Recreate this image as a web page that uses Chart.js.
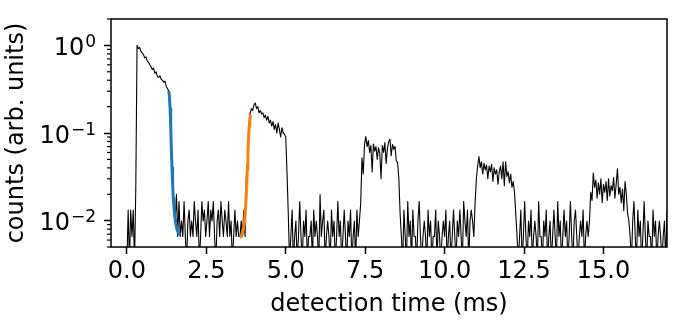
<!DOCTYPE html>
<html>
<head>
<meta charset="utf-8">
<script src="https://cdn.jsdelivr.net/npm/chart.js@4.4.1/dist/chart.umd.min.js"></script>
<style>
  html, body { margin: 0; padding: 0; background: #fff; }
  #wrap { width: 690px; height: 326px; position: relative; }
</style>
</head>
<body>
<div id="wrap"><canvas id="grafico"></canvas></div>
<script>
// bin width of the histogram (ms)
const binWidth = 0.04

// normalised counts per bin (.0033 = single count, below the axis)
const counts = [
  // 0.00 - 0.28
  .0033, .0132, .0033, .0132, .0066, .0132, .0033, .023,
  // 0.32 - 1.32 first pulse
  1.0, .92, .95, .86, .82, .79, .72, .74, .66, .64, .60, .57, .53, .55, .48, .50,
  .44, .43, .45, .41, .40, .38, .39, .34, .32, .30,
  // 1.36 - 1.68 fall
  .17, .06, .025, .016, .0099, .02, .0066, .0165, .0066,
  // 1.72 - 3.52
  .0099, .0066, .0165, .0066, .0033, .0099, .0132, .0066, .0099, .0066,
  .0165, .0099, .0066, .0132, .0033, .0066, .0165, .0099, .0132, .0066,
  .0099, .0165, .0066, .0132, .0099, .0165, .0066, .0033, .0099, .0132,
  .0066, .0165, .0099, .0066, .0132, .0099, .0066, .0165, .0066, .0099,
  .0033, .0066, .0132, .0066, .0099, .0066,
  // 3.56 - 5.08 second pulse
  .0066, .0099, .0066, .0132, .0066, .032, .05, .12, .17, .19,
  .18, .21, .22, .19, .20, .17, .18, .165, .17, .15,
  .16, .14, .155, .13, .14, .12, .135, .11, .125, .10,
  .13, .11, .09, .115, .10, .097, .09, .035, .012,
  // 5.12 - 7.32
  .0033, .0066, .0132, .0033, .0066, .0099, .0033, .0066, .0165, .0066,
  .0033, .0099, .0066, .0132, .0033, .0066, .0066, .0099, .0033, .0132,
  .0066, .0099, .0066, .0033, .0198, .0066, .0099, .0132, .0033, .0066,
  .0099, .0066, .0033, .0132, .0066, .0099, .0033, .0066, .0165, .0066,
  .0099, .0033, .0066, .0132, .0066, .0033, .0099, .0066, .0132, .0033,
  .0066, .0099, .0033, .0132, .0066, .0099,
  // 7.36 - 8.64 third pulse
  .016, .052, .034, .075, .091, .07, .082, .06, .072, .036,
  .075, .062, .07, .05, .068, .058, .03, .072, .06, .078,
  .045, .066, .08, .085, .055, .074, .065, .07, .048, .046,
  .03, .012, .0066,
  // 8.68 - 10.84
  .0033, .0132, .0066, .0033, .0165, .0066, .0099, .0033, .0132, .0066,
  .0066, .0033, .0099, .0165, .0066, .0033, .0066, .0099, .0066, .0033,
  .0132, .0066, .0099, .0033, .0066, .0066, .0132, .0033, .0099, .0066,
  .0033, .0066, .0099, .0066, .0132, .0033, .0066, .0099, .0033, .0066,
  .0132, .0066, .0033, .0099, .0066, .0132, .0066, .0033, .0165, .0099,
  .0066, .0132, .0033, .0099, .0132,
  // 10.88 - 12.28 fourth pulse
  .0099, .0066, .016, .03, .042, .054, .04, .047, .034, .045,
  .038, .043, .03, .042, .036, .044, .028, .04, .034, .038,
  .026, .036, .042, .03, .047, .025, .047, .032, .036, .027,
  .034, .024, .028, .021, .012, .0066,
  // 12.32 - 14.48
  .0033, .0066, .0132, .0033, .0066, .0165, .0066, .0033, .0099, .0066,
  .0132, .0033, .0066, .0099, .0066, .0033, .0165, .0066, .0066, .0033,
  .0099, .0066, .0132, .0033, .0066, .0099, .0033, .0066, .0132, .0066,
  .0033, .0165, .0066, .0099, .0033, .0066, .0132, .0066, .0099, .0033,
  .0066, .0165, .0066, .0033, .0099, .0132, .0066, .0033, .0066, .0099,
  .0066, .0132, .0033, .0066, .0099,
  // 14.52 - 15.84 fifth pulse
  .0066, .0099, .021, .017, .035, .024, .029, .018, .027, .02,
  .03, .016, .026, .021, .028, .017, .03, .019, .025, .022,
  .031, .018, .026, .039, .02, .024, .016, .023, .013, .028,
  .02, .012, .0099, .0066,
  // 15.88 - 17.00
  .0033, .0099, .0165, .0066, .0033, .0132, .0066, .0099, .0033, .0066,
  .0165, .0066, .0033, .0099, .0066, .0066, .0033, .0132, .0066, .0099,
  .0033, .0066, .0099, .0066, .0033, .0066, .0099, .0033, .0132
]

// fitted decay after the first pulse
const blueTime = [1.32, 1.34, 1.36, 1.38, 1.40, 1.42, 1.44, 1.46, 1.48, 1.51, 1.54, 1.58, 1.62, 1.67]
const blueFit = [.30, .26, .19, .12, .065, .04, .026, .018, .0145, .011, .0092, .0079, .0073, .0069]

// fitted rise of the second pulse
const orangeTime = [3.55, 3.60, 3.64, 3.68, 3.71, 3.74, 3.77, 3.79, 3.81, 3.83, 3.85, 3.87, 3.89]
const orangeFit = [.0065, .0066, .0072, .0085, .0102, .015, .024, .038, .059, .088, .119, .145, .16]

const xTicks = [0, 2.5, 5, 7.5, 10, 12.5, 15]
const yTicks = [0.01, 0.1, 1]
const yTickBase = '10'
const yTickExp = ['−2', '−1', '0']

Chart.defaults.font.family = 'DejaVu Sans'
Chart.defaults.color = '#000'

const decadas = [0.001, 0.01, 0.1, 1]

// box around the plot, minor ticks of the log axis and the 10^n labels
const marco = {
  id: 'marco',
  afterDraw(chart) {
    const { ctx, chartArea: a } = chart
    const y = chart.scales.y
    ctx.save()
    ctx.strokeStyle = '#000'
    ctx.lineWidth = 1.2
    decadas.forEach(d => {
      for (let k = 2; k < 10; k++) {
        const v = k * d
        if (v < y.min || v > y.max) continue
        const py = y.getPixelForValue(v)
        ctx.beginPath()
        ctx.moveTo(a.left, py)
        ctx.lineTo(a.left - 4, py)
        ctx.stroke()
      }
    })
    ctx.lineWidth = 1.5
    ctx.strokeRect(a.left, a.top, a.right - a.left, a.bottom - a.top)

    // tick labels with superscript
    ctx.fillStyle = '#000'
    ctx.textBaseline = 'alphabetic'
    ctx.textAlign = 'left'
    const derecha = a.left - 16
    yTicks.forEach((v, i) => {
      const py = y.getPixelForValue(v)
      ctx.font = '24px "DejaVu Sans"'
      const wBase = ctx.measureText(yTickBase).width
      ctx.font = '17px "DejaVu Sans"'
      const wExp = ctx.measureText(yTickExp[i]).width
      const x0 = derecha - wBase - wExp
      ctx.font = '24px "DejaVu Sans"'
      ctx.fillText(yTickBase, x0, py + 9.5)
      ctx.font = '17px "DejaVu Sans"'
      ctx.fillText(yTickExp[i], x0 + wBase + 1, py + 1.5)
    })
    ctx.restore()
  }
}

const datosTraza = counts.map((c, i) => ({ x: +(i * binWidth).toFixed(2), y: c }))
const datosAzul = blueTime.map((t, i) => ({ x: t, y: blueFit[i] }))
const datosNaranja = orangeTime.map((t, i) => ({ x: t, y: orangeFit[i] }))

new Chart(document.getElementById('grafico'), {
  type: 'line',
  data: {
    datasets: [
      { data: datosAzul, borderColor: '#1f77b4', borderWidth: 3, order: 1 },
      { data: datosNaranja, borderColor: '#ff7f0e', borderWidth: 3, order: 1 },
      { data: datosTraza, borderColor: '#000', borderWidth: 1.1, order: 2 }
    ]
  },
  options: {
    animation: false,
    responsive: true,
    maintainAspectRatio: false,
    devicePixelRatio: 1,
    layout: { padding: { top: 19, right: 23, left: 0, bottom: 0 } },
    elements: {
      point: { radius: 0 },
      line: { tension: 0, borderJoinStyle: 'round', fill: false }
    },
    plugins: { legend: { display: false }, tooltip: { enabled: false } },
    scales: {
      x: {
        type: 'linear',
        min: -0.5,
        max: 17,
        afterBuildTicks: s => { s.ticks = xTicks.map(v => ({ value: v })) },
        afterFit: s => { s.height = 79 },
        ticks: { font: { size: 24 }, padding: 3, maxRotation: 0, autoSkip: false, callback: v => v.toFixed(1) },
        grid: { drawOnChartArea: false, tickLength: 7, tickWidth: 1.5, tickColor: '#000' },
        border: { display: false },
        title: {
          display: true,
          text: 'detection time (ms)',
          font: { size: 24, lineHeight: 1.2 },
          padding: { top: 0, bottom: 7 }
        }
      },
      y: {
        type: 'logarithmic',
        min: 0.005,
        max: 2,
        afterBuildTicks: s => { s.ticks = yTicks.map(v => ({ value: v, major: true })) },
        afterFit: s => { s.width = 111 },
        ticks: { display: true, autoSkip: false, callback: () => '' },
        grid: { drawOnChartArea: false, tickLength: 7, tickWidth: 1.5, tickColor: '#000' },
        border: { display: false },
        title: {
          display: true,
          text: 'counts (arb. units)',
          font: { size: 24, lineHeight: 1.2 },
          padding: { top: 2, bottom: 0 }
        }
      }
    }
  },
  plugins: [marco]
})
</script>
</body>
</html>
